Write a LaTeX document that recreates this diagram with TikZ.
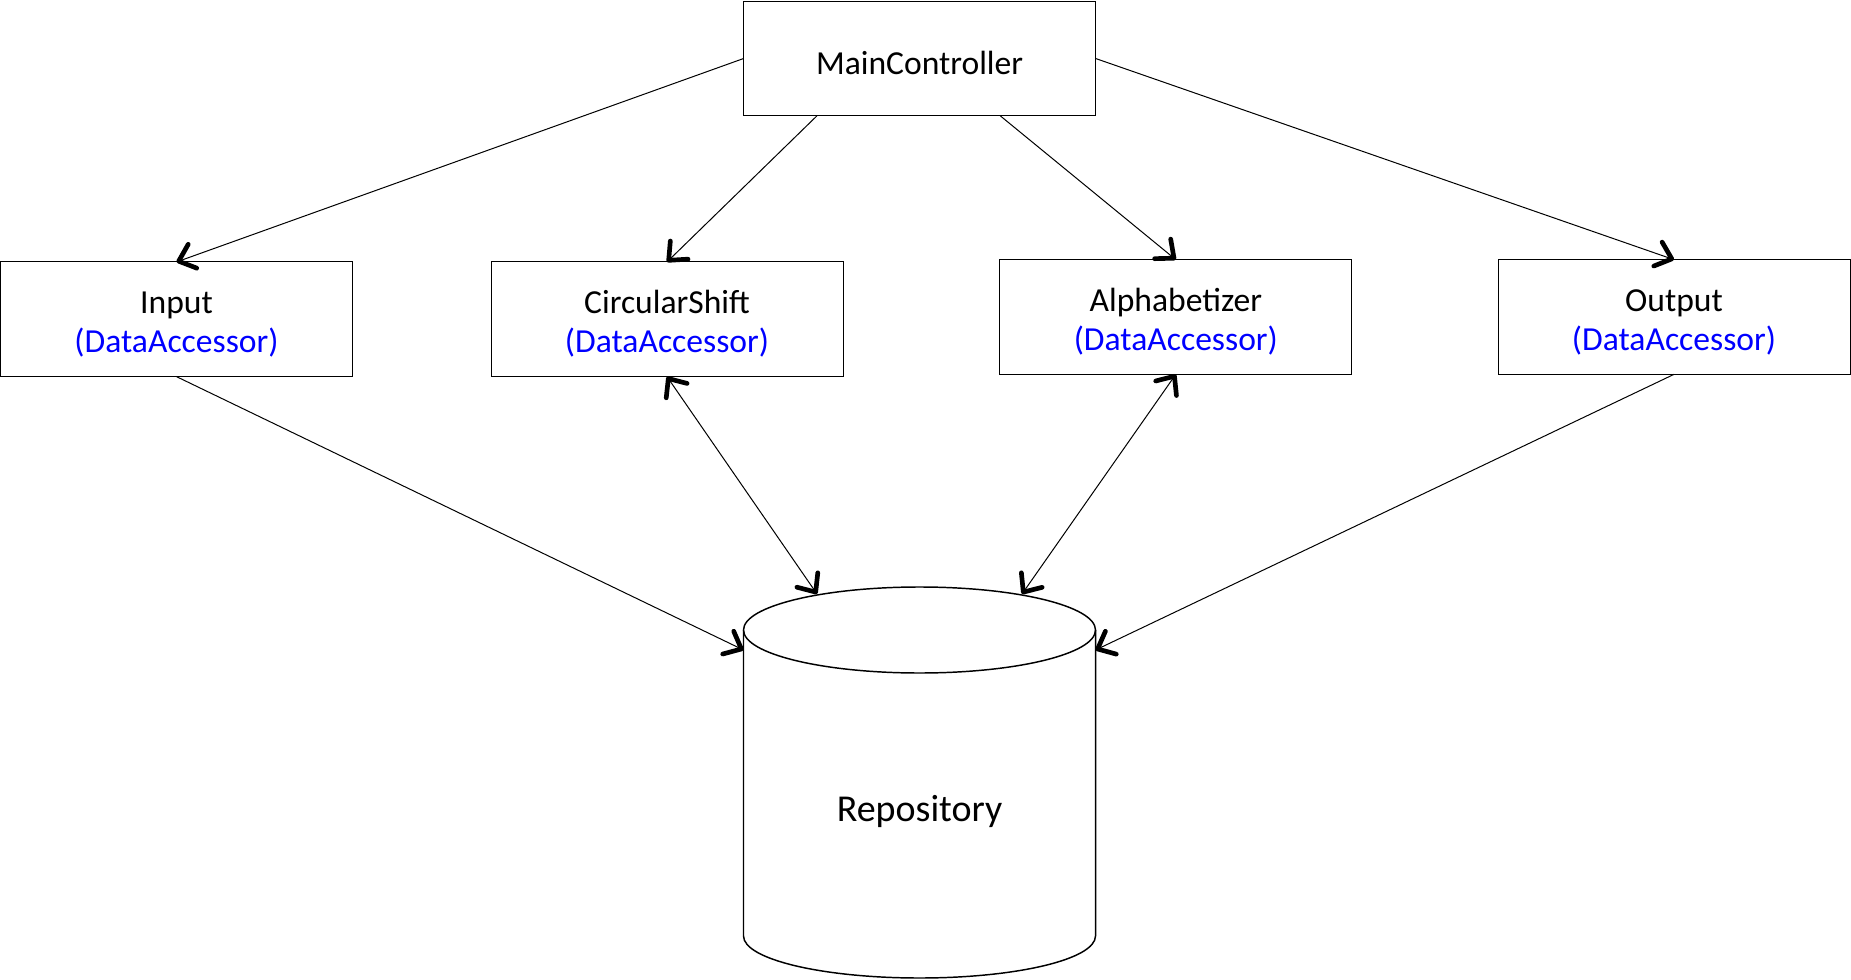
\documentclass[tikz,border=0pt]{standalone}
\usepackage{fontspec}
\setmainfont{Carlito}
\usetikzlibrary{arrows.meta}

\definecolor{accblue}{RGB}{0,0,255}
\tikzset{every picture/.style={line width=0.75pt}}
\tikzset{
  modbox/.style={draw, rectangle, outer sep=0pt, inner sep=2pt,
    minimum width=264pt, minimum height=86pt, align=center,
    font=\fontsize{25.2}{29.5}\selectfont},
  barb/.tip={Straight Barb[length=11pt,width=19pt,line width=3.5pt,round]},
  arr/.style={line width=0.75pt, arrows={-barb}},
  arrs/.style={line width=0.75pt, arrows={barb-barb}},
}
\newcommand{\acc}{\textcolor{accblue}{(DataAccessor)}}
\newcommand{\topgap}{\rule{0pt}{24pt}}

\begin{document}
\begin{tikzpicture}[x=0.75pt,y=0.75pt,yscale=-1,xscale=1]
\useasboundingbox[fill=white] (0,0) rectangle (1851,980);

% Modules
\node[modbox] (mc) at (919.6,58.5) {\topgap MainController};
\node[modbox] (input) at (176.5,319.3) {\topgap Input\\\acc};
\node[modbox] (shift) at (667,319.3) {\topgap CircularShift\\\acc};
\node[modbox] (alpha) at (1175.8,317) {\topgap Alphabetizer\\\acc};
\node[modbox] (output) at (1674,317) {\topgap Output\\\acc};

% Repository cylinder
\draw [line width=1.1pt] (919.5,630) ellipse [x radius=176, y radius=43];
\draw [line width=1.1pt] (743.5,630) -- (743.5,936) .. controls (743.5,959.2) and (822.3,978) .. (919.5,978) .. controls (1016.7,978) and (1095.5,959.2) .. (1095.5,936) -- (1095.5,630);
\node[font=\fontsize{28.5}{34}\selectfont] (rep) at (919.5,811) {Repository};
\coordinate (rep in) at (743.5,650);
\coordinate (rep out) at (1095.5,650);
\coordinate (rep shift) at (817,594);
\coordinate (rep alpha) at (1022,594);

% MainController calls
\draw [arr] (mc.west) -- (input.north);
\draw [arr] ([xshift=55pt]mc.south west) -- (shift.north);
\draw [arr] ([xshift=-71.5pt]mc.south east) -- (alpha.north);
\draw [arr] (mc.east) -- (output.north);

% Data access
\draw [arr] (input.south) -- (rep in);
\draw [arrs] (shift.south) -- (rep shift);
\draw [arrs] (alpha.south) -- (rep alpha);
\draw [arr] (output.south) -- (rep out);

\end{tikzpicture}
\end{document}
